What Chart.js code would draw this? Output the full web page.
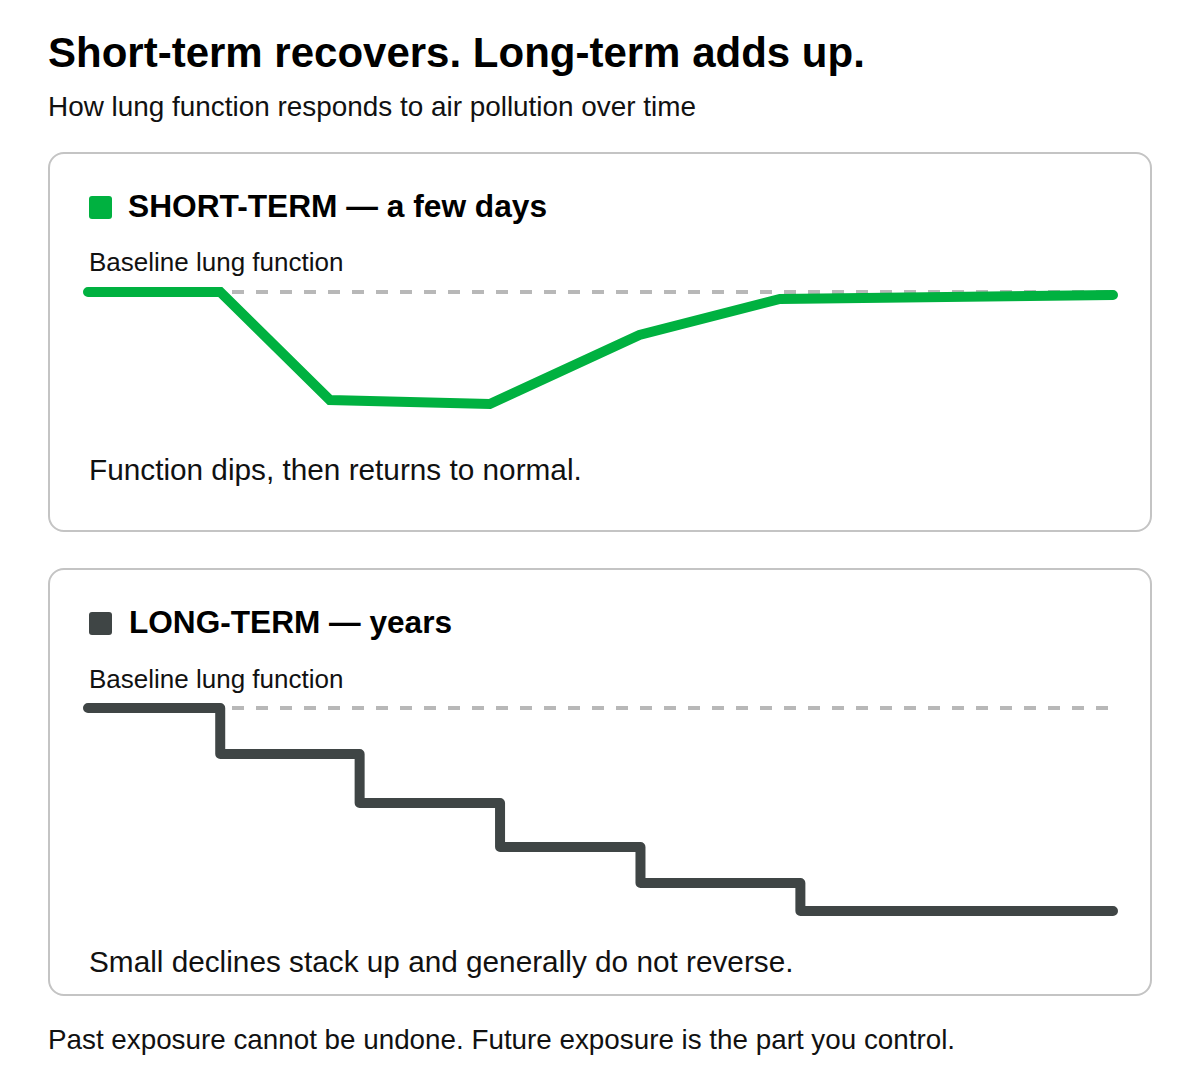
<!DOCTYPE html>
<html>
<head>
<meta charset="utf-8">
<script src="https://cdn.jsdelivr.net/npm/chart.js@4.4.1/dist/chart.umd.min.js"></script>
<style>
  html, body { margin: 0; padding: 0; background: #ffffff; }
  body { width: 1200px; height: 1080px; position: relative; overflow: hidden;
         font-family: "Liberation Sans", Arial, Helvetica, sans-serif; color: #111; }
  .t { position: absolute; white-space: nowrap; line-height: 1; }
  .panel { position: absolute; left: 48px; width: 1100px; border: 2px solid #c4c4c4;
           border-radius: 16px; box-sizing: border-box; }
  .sq { position: absolute; width: 23px; height: 23px; border-radius: 3px; }
  canvas { position: absolute; }
</style>
</head>
<body>
<div class="t" style="left:48px; top:32px; font-size:42px; font-weight:bold; color:#000;">Short-term recovers. Long-term adds up.</div>
<div class="t" style="left:48px; top:93px; font-size:27.9px; color:#111;">How lung function responds to air pollution over time</div>

<div class="panel" style="top:152px; height:380px; width:1104px;"></div>
<div class="sq" style="left:89px; top:196px; background:#00b140;"></div>
<div class="t" style="left:128px; top:191px; font-size:31.7px; font-weight:bold; color:#000;">SHORT-TERM — a few days</div>
<div class="t" style="left:89px; top:249px; font-size:26px; color:#111;">Baseline lung function</div>
<div class="t" style="left:89px; top:455px; font-size:29.75px; color:#111;">Function dips, then returns to normal.</div>
<canvas id="c1" width="1045" height="140" style="left:78px; top:282px;"></canvas>

<div class="panel" style="top:568px; height:428px; width:1104px;"></div>
<div class="sq" style="left:89px; top:612px; background:#3f4545;"></div>
<div class="t" style="left:129px; top:607px; font-size:31.6px; font-weight:bold; color:#000;">LONG-TERM — years</div>
<div class="t" style="left:89px; top:666px; font-size:26px; color:#111;">Baseline lung function</div>
<div class="t" style="left:89px; top:947px; font-size:29.75px; color:#111;">Small declines stack up and generally do not reverse.</div>
<canvas id="c2" width="1045" height="230" style="left:78px; top:698px;"></canvas>

<div class="t" style="left:48px; top:1026px; font-size:27.8px; color:#111;">Past exposure cannot be undone. Future exposure is the part you control.</div>

<script>
// Data (x = relative time, y = lung function relative to baseline = 100)
const baselineValue = 100;
const shortX = [0, 12.9, 23.6, 39.2, 53.8, 67.5, 100];
const shortY = [100, 100, 89.2, 88.8, 95.7, 99.3, 99.7];
const longX = [0, 12.9, 26.5, 40.2, 53.9, 69.5, 100];
const longY = [100, 95.4, 90.5, 86.1, 82.5, 79.7, 79.7];
const baselineX = [0, 100];

const GREEN = '#00b140';
const DARK = '#3f4545';
const DASH = '#b8b8b8';

function pts(xs, ys) { return xs.map((x, i) => ({ x: x, y: ys[i] })); }

function makeChart(id, xs, ys, color, yMin, stepped, join) {
  return new Chart(document.getElementById(id), {
    type: 'line',
    data: {
      datasets: [
        {
          data: pts(xs, ys),
          borderColor: color,
          borderWidth: 10,
          borderCapStyle: 'round',
          borderJoinStyle: join,
          stepped: stepped,
          pointRadius: 0,
          tension: 0,
          fill: false,
          clip: false,
          order: 1
        },
        {
          data: pts(baselineX, baselineX.map(() => baselineValue)),
          borderColor: DASH,
          borderWidth: 4,
          borderDash: [12, 12],
          pointRadius: 0,
          fill: false,
          clip: false,
          order: 2
        }
      ]
    },
    options: {
      responsive: false,
      animation: false,
      devicePixelRatio: 1,
      layout: { padding: 10 },
      plugins: { legend: { display: false }, tooltip: { enabled: false } },
      scales: {
        x: { type: 'linear', min: 0, max: 100, display: false },
        y: { type: 'linear', min: yMin, max: 100, display: false }
      }
    }
  });
}

makeChart('c1', shortX, shortY, GREEN, 88, false, 'miter');
makeChart('c2', longX, longY, DARK, 79, 'before', 'round');
</script>
</body>
</html>
